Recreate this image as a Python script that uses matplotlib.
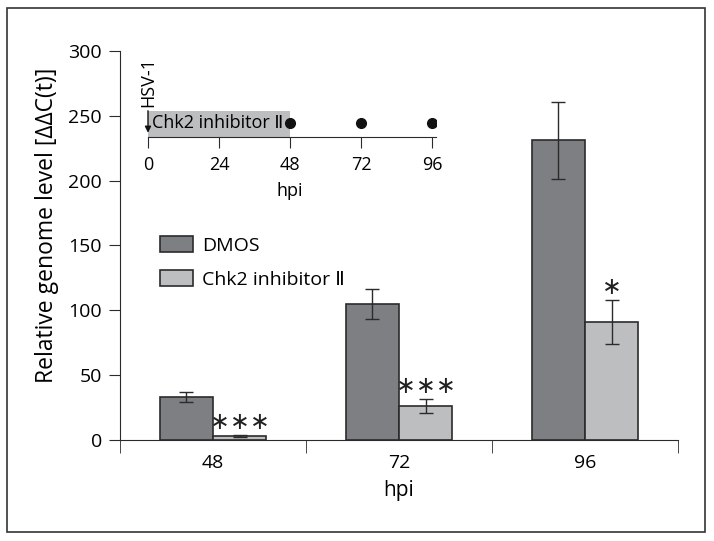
import matplotlib.pyplot as plt
import matplotlib.patches as mpatches
import numpy as np

plt.rcParams['font.family'] = ['Open Sans', 'DejaVu Sans']

categories = ['48', '72', '96']
dmos = [33, 105, 231]
dmos_err = [4, 11.5, 30]
chk2 = [3, 26, 91]
chk2_err = [0.6, 5.5, 17]
n_stars = [3, 3, 1]
timeline_ticks = [0, 24, 48, 72, 96]
sample_times = [48, 72, 96]

dark = '#7e7f82'
light = '#bdbec0'
edge = '#2b2b2b'

W, H = 714, 541
fig = plt.figure(figsize=(W / 100, H / 100), dpi=100)

def box(x0, y0, x1, y1):
    # pixel box (top-left origin) -> figure fraction
    return [x0 / W, 1 - y1 / H, (x1 - x0) / W, (y1 - y0) / H]

# outer frame
fig.patches.append(mpatches.Rectangle((7 / W, 1 - 532 / H), 698 / W, 524 / H,
                                      transform=fig.transFigure, fill=False,
                                      edgecolor='#333333', linewidth=1.2))

ax = fig.add_axes(box(120, 51, 678, 440))
x = np.arange(len(categories))
w = 0.285
ax.bar(x - w / 2, dmos, w, yerr=dmos_err, color=dark, edgecolor=edge,
       linewidth=1.2, capsize=5, error_kw=dict(elinewidth=1, ecolor=edge, capthick=1),
       label='DMOS')
ax.bar(x + w / 2, chk2, w, yerr=chk2_err, color=light, edgecolor=edge,
       linewidth=1.2, capsize=5, error_kw=dict(elinewidth=1, ecolor=edge, capthick=1),
       label='Chk2 inhibitor Ⅱ')
# significance stars, drawn one by one so the spacing can be set
for i in range(len(categories)):
    k = n_stars[i]
    for j in range(k):
        dx = (j - (k - 1) / 2) * 14.5
        ax.annotate('∗', (x[i] + w / 2, chk2[i] + chk2_err[i]),
                    xytext=(dx, 9.5), textcoords='offset points', ha='center',
                    va='center', fontsize=17, color='#222222',
                    family='DejaVu Sans')

ax.set_xlim(-0.5, 2.5)
ax.set_ylim(0, 300)
ax.set_yticks([0, 50, 100, 150, 200, 250, 300])
ax.set_xticks(x)
ax.set_xticklabels(categories)
ax.set_xticks([-0.5, 0.5, 1.5, 2.5], minor=True)
ax.tick_params(axis='x', which='major', length=0, pad=10, labelsize=14)
ax.tick_params(axis='x', which='minor', length=9, direction='out', color=edge)
ax.tick_params(axis='y', length=8, direction='out', labelsize=14, pad=5, color=edge)
for s in ['top', 'right']:
    ax.spines[s].set_visible(False)
for s in ['left', 'bottom']:
    ax.spines[s].set_color(edge)
ax.set_xlabel('hpi', fontsize=15, labelpad=6)
ax.set_ylabel('Relative genome level [ΔΔC(t)]', fontsize=16.5)
ax.yaxis.set_label_coords(-0.11, 0.553)
ax.legend(loc='upper left', bbox_to_anchor=(0.072, 0.525), frameon=False,
          fontsize=14, handlelength=1.7, handleheight=0.9, labelspacing=0.8,
          handletextpad=0.45, borderpad=0, borderaxespad=0)

# inset timeline
ins = fig.add_axes(box(148, 108, 436, 137))
ins.set_xlim(0, 96 * 288 / 284)
ins.set_ylim(0, 1)
ins.axvspan(0, 48, ymin=0, ymax=0.9, color=light, lw=0)
ins.text(1.5, 0.47, 'Chk2 inhibitor Ⅱ', va='center', ha='left', fontsize=13)
ins.plot(sample_times, [0.47] * len(sample_times), 'o', color='#111111', ms=7)
ins.set_xticks(timeline_ticks)
ins.set_yticks([])
ins.tick_params(axis='x', length=8, direction='out', labelsize=13, pad=6, color=edge)
for s in ['top', 'right', 'left']:
    ins.spines[s].set_visible(False)
ins.spines['bottom'].set_color(edge)
ins.set_xlabel('hpi', fontsize=13)
ins.xaxis.set_label_coords(48 / (96 * 288 / 284), -1.55)
ins.annotate('', xy=(0, 0.05), xytext=(0, 1.0),
             arrowprops=dict(arrowstyle='-|>', color='#111111', lw=1, mutation_scale=9),
             annotation_clip=False)
fig.text(148 / W, 1 - 82 / H, 'HSV-1', rotation=90, ha='center', va='center', fontsize=13)

fig.savefig('out.png', dpi=100)
